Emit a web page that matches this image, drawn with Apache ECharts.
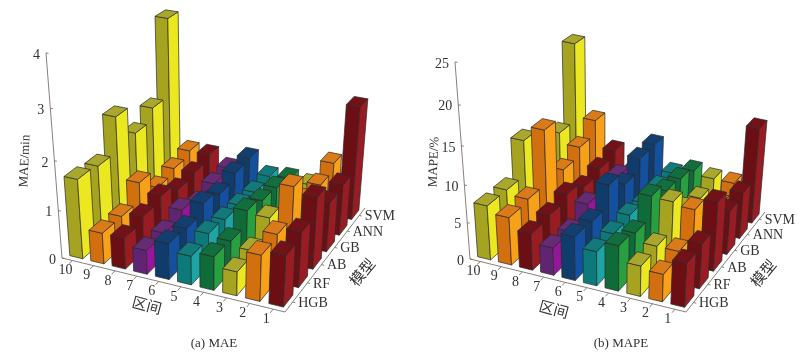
<!DOCTYPE html>
<html>
<head>
<meta charset="utf-8">
<title>MAE MAPE</title>
<script src="https://cdn.jsdelivr.net/npm/echarts@6/dist/echarts.min.js"></script>
<style>
  html, body { margin: 0; padding: 0; background: #fff; }
  #chart { width: 809px; height: 361px; }
</style>
</head>
<body>
<div id="chart"></div>
<script>
// data
var intervals = ["10","9","8","7","6","5","4","3","2","1"];
var models = ["HGB","RF","AB","GB","ANN","SVM"];

var maeHGB = [1.65,0.65,0.65,0.5,0.75,0.6,0.7,0.5,0.95,1.05];
var maeRF  = [1.6,0.65,0.75,0.5,0.7,0.7,0.65,0.55,1.0,1.15];
var maeAB  = [2.3,1.03,0.84,0.64,0.88,0.64,0.93,0.88,1.62,1.5];
var maeGB  = [1.68,0.6,0.65,0.45,0.75,0.6,0.8,0.5,1.0,1.05];
var maeANN = [1.93,0.7,0.7,0.55,0.88,0.55,0.75,0.6,1.0,1.1];
var maeSVM = [3.53,0.79,0.79,0.58,0.9,0.58,0.63,0.58,1.15,2.42];

var mapeHGB = [7.4,6.5,5,3.8,6,4.7,6.2,4.2,3.8,6];
var mapeRF  = [7.4,6.8,5.3,3.7,5.8,4.8,5.6,4.5,4.5,6.2];
var mapeAB  = [12,14,6,5.3,8.6,5.1,8.4,8.3,7.9,9.6];
var mapeGB  = [8.2,6.7,4.9,3.6,6.6,4.6,7,5.1,4.6,6.2];
var mapeANN = [9.3,7.9,5.5,5.1,8.2,4.8,6.6,4.5,4.2,6.6];
var mapeSVM = [19.7,9.8,6.1,3.8,8.2,4.7,5.7,5.2,5.2,13.5];

var maeTicks = [0,1,2,3,4];
var mapeTicks = [0,5,10,15,20,25];

// 颜色: 左面, 右面, 顶面 (按区间)
var yellow = ["#a5a320","#ebe822","#a9a82c"];
var orange = ["#d2700f","#f7a018","#da7a18"];
var red    = ["#6c0f14","#981c22","#721218"];
var purple = ["#5f2572","#95169a","#652b75"];
var blue   = ["#103c6c","#1450a0","#123f70"];
var teal   = ["#0d7a7a","#1da5a5","#127a7a"];
var green  = ["#0f6b38","#28a040","#136e3e"];
var intervalColors = [yellow,orange,red,purple,blue,teal,green,yellow,orange,red];

var SERIF = "'Liberation Serif', serif";
var CJK = "'Noto Sans CJK SC', sans-serif";
var BAR_SIZE = 0.62;

// 透视投影: 地面四角 + z 轴顶点
function makeProjection(p0, p1, p2, p3, zTop, k) {
  var dx1 = p1[0]-p2[0], dx2 = p3[0]-p2[0], sx = p0[0]-p1[0]+p2[0]-p3[0];
  var dy1 = p1[1]-p2[1], dy2 = p3[1]-p2[1], sy = p0[1]-p1[1]+p2[1]-p3[1];
  var den = dx1*dy2-dx2*dy1;
  var g = (sx*dy2-dx2*sy)/den, h = (dx1*sy-sx*dy1)/den;
  var a = p1[0]-p0[0]+g*p1[0], b = p3[0]-p0[0]+h*p3[0];
  var d = p1[1]-p0[1]+g*p1[1], e = p3[1]-p0[1]+h*p3[1];
  var zx = zTop[0]*(1+k)-p0[0], zy = zTop[1]*(1+k)-p0[1];
  return function (u, v, z) {
    var w = g*u+h*v+k*z+1;
    return [(a*u+b*v+zx*z+p0[0])/w, (d*u+e*v+zy*z+p0[1])/w];
  };
}

function makeBars(name, rows, zMax, proj) {
  var items = [];
  // 从后往前画
  for (var j = models.length-1; j >= 0; j--) {
    for (var i = 0; i < intervals.length; i++) {
      items.push([i, j, rows[j][i]]);
    }
  }
  return {
    name: name,
    type: "custom",
    coordinateSystem: "none",
    silent: true,
    animation: false,
    data: items,
    renderItem: function (params, api) {
      var i = api.value(0), j = api.value(1), z = api.value(2)/zMax;
      var du = 1/intervals.length, dv = 1/models.length;
      var pad = (1-BAR_SIZE)/2;
      var u0 = (i+pad)*du, u1 = (i+1-pad)*du;
      var v0 = (j+pad)*dv, v1 = (j+1-pad)*dv;
      var c = intervalColors[i];
      function face(points, color) {
        return {
          type: "polygon",
          shape: {points: points},
          style: {fill: color, stroke: "#2a2a2a", lineWidth: 0.7, lineJoin: "round"}
        };
      }
      return {
        type: "group",
        children: [
          face([proj(u0,v0,0),proj(u1,v0,0),proj(u1,v0,z),proj(u0,v0,z)], c[0]),
          face([proj(u1,v0,0),proj(u1,v1,0),proj(u1,v1,z),proj(u1,v0,z)], c[1]),
          face([proj(u0,v0,z),proj(u1,v0,z),proj(u1,v1,z),proj(u0,v1,z)], c[2])
        ]
      };
    }
  };
}

function txt(x, y, s, align, font, size, rot) {
  return {
    type: "text",
    x: x, y: y,
    rotation: rot || 0,
    style: {text: s, fill: "#333", font: size+"px "+font, textAlign: align, textVerticalAlign: "middle"}
  };
}

function seg(a, b) {
  return {
    type: "line",
    shape: {x1: a[0], y1: a[1], x2: b[0], y2: b[1]},
    style: {stroke: "#7d716a", lineWidth: 0.9}
  };
}

function makeAxes(cfg, ticks, zMax, proj) {
  return {
    name: cfg.title+" axes",
    type: "custom",
    coordinateSystem: "none",
    silent: true,
    animation: false,
    z: 1,
    data: [0],
    renderItem: function () {
      var kids = [
        seg(proj(0,0,0), proj(1,0,0)),
        seg(proj(1,0,0), proj(1,1,0)),
        seg(proj(0,0,0), proj(0,0,1))
      ];
      ticks.forEach(function (t) {
        var p = proj(0,0,t/zMax);
        kids.push(seg(p, [p[0]+2.5, p[1]+0.3]));
        kids.push(txt(p[0]-6, p[1]+2, String(t), "right", SERIF, 14));
      });
      intervals.forEach(function (s, i) {
        var u = (i+0.5)/intervals.length;
        var p = proj(u,0,0), q = proj(u,-0.03,0);
        kids.push(seg(p, q));
        kids.push(txt(p[0]-7, p[1]+10, s, "center", SERIF, 14));
      });
      models.forEach(function (s, j) {
        var v = (j+0.5)/models.length;
        var p = proj(1,v,0), q = proj(1.012,v,0);
        kids.push(seg(p, q));
        kids.push(txt(p[0]+5.5, p[1]+1, s, "left", SERIF, 14));
      });
      kids.push(txt(cfg.zName[0], cfg.zName[1], cfg.zLabel, "center", SERIF, 13, Math.PI/2-0.04));
      kids.push(txt(cfg.xName[0], cfg.xName[1], "区间", "center", CJK, 15, -0.26));
      kids.push(txt(cfg.yName[0], cfg.yName[1], "模型", "center", CJK, 15, 0.88));
      kids.push(txt(cfg.titlePos[0], cfg.titlePos[1], cfg.title, "center", SERIF, 13));
      return {type: "group", children: kids};
    }
  };
}

var projA = makeProjection([62,258],[285,312],[365,208],[168,167],[46,53],-0.1);
var projB = makeProjection([470,259],[686,312],[765,212],[574,169],[455,62],-0.1);

var cfgA = {title: "(a) MAE", zLabel: "MAE/min", titlePos: [214,344], zName: [25,161], xName: [147,305], yName: [362,272]};
var cfgB = {title: "(b) MAPE", zLabel: "MAPE/%", titlePos: [621,344], zName: [434,162], xName: [554,309], yName: [763,273]};

var option = {
  backgroundColor: "#ffffff",
  animation: false,
  series: [
    makeAxes(cfgA, maeTicks, 4, projA),
    makeBars("MAE", [maeHGB,maeRF,maeAB,maeGB,maeANN,maeSVM], 4, projA),
    makeAxes(cfgB, mapeTicks, 25, projB),
    makeBars("MAPE", [mapeHGB,mapeRF,mapeAB,mapeGB,mapeANN,mapeSVM], 25, projB)
  ]
};

var myChart = echarts.init(document.getElementById("chart"));
myChart.setOption(option);
</script>
</body>
</html>
